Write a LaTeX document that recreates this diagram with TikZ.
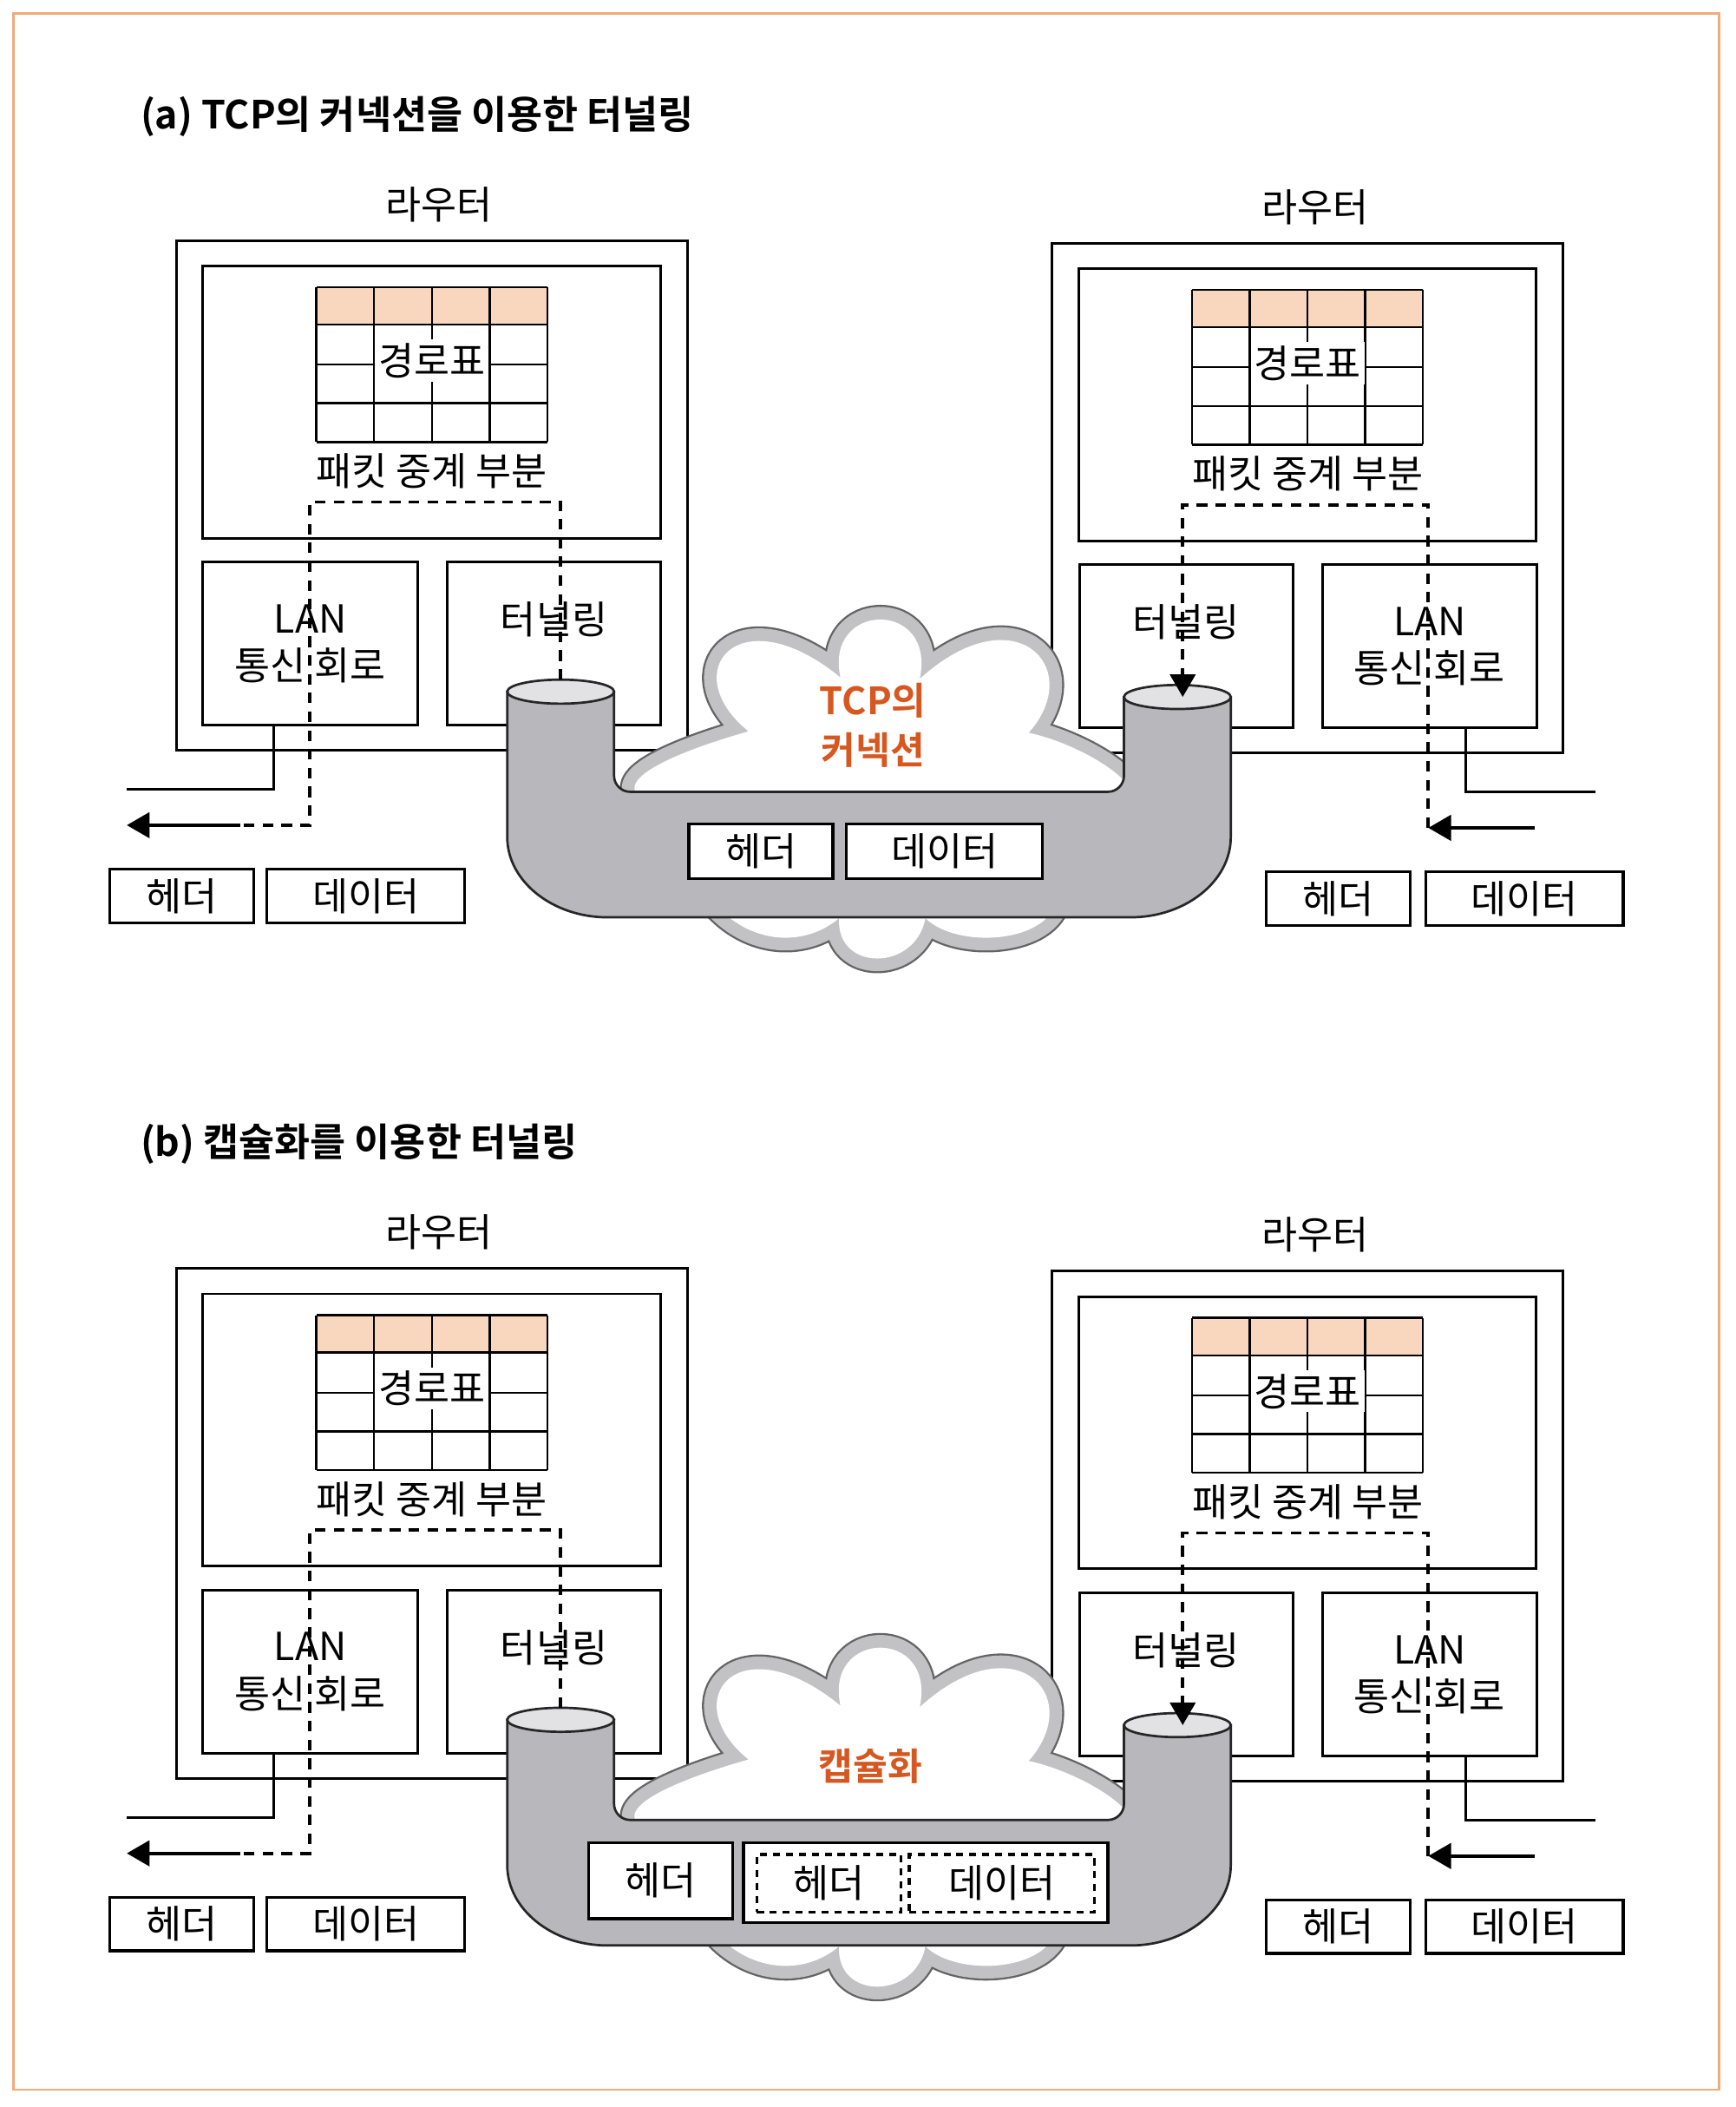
\documentclass[tikz,border=0pt]{standalone}
\usepackage{fontspec}
\setmainfont{Noto Sans CJK KR}[BoldFont={Noto Sans CJK KR Bold}]
\usetikzlibrary{arrows.meta}
\definecolor{tcporange}{RGB}{214,88,32}
\definecolor{peach}{RGB}{249,214,190}
\definecolor{framecol}{RGB}{242,170,125}
\definecolor{pipegray}{RGB}{184,184,188}
\definecolor{capgray}{RGB}{226,226,229}
\definecolor{cloudband}{RGB}{194,194,196}
\definecolor{cloudedge}{RGB}{100,100,100}

\begin{document}
\begin{tikzpicture}
  [x=0.02cm,y=-0.02cm,
   every node/.style={font=\fontsize{16.5}{20}\selectfont,inner sep=0pt},
   box/.style={draw,line width=1.1pt},
   grid line/.style={line width=0.9pt},
   pkt/.style={draw,line width=1.2pt,fill=white,minimum height=0.8cm},
   dpkt/.style={draw,line width=1.3pt,dash pattern=on 3pt off 2.5pt,minimum height=0.86cm},
   route/.style={line width=1.4pt,dash pattern=on 4.5pt off 3.5pt},
   tip/.style={-{Triangle[length=0.34cm,width=0.38cm]}},
   title/.style={font=\fontsize{16.5}{20}\selectfont\bfseries,anchor=west},
   cloudtxt/.style={font=\fontsize{16}{21}\selectfont\bfseries,text=tcporange,align=center},
   pipe/.style={fill=pipegray,draw=black!85,line width=1pt},
   pipetop/.style={fill=capgray,draw=black!85,line width=1pt},
   cloudout/.style={draw=cloudedge,line width=0.44cm,line join=round},
   cloudin/.style={draw=cloudband,line width=0.38cm,line join=round},
   cloudfill/.style={fill=white}]
  \useasboundingbox (0,0) rectangle (1300,1578);
  \fill[white] (0,0) rectangle (1300,1578);
  \draw[framecol,line width=1pt] (10,10) rectangle (1288,1565);

  \node[title] (titleA) at (105,87) {(a) TCP의 커넥션을 이용한 터널링};
  \node[title] (titleB) at (105,857) {(b) 캡슐화를 이용한 터널링};

  % both panels: routers, cloud, pipe and the packet route
  \foreach \p/\dy in {a/0,b/770}{
  \begin{scope}[shift={(0,\dy)}]
    \foreach \s/\dx/\sy/\lx/\tx/\wx/\we/\hx/\ex in
      {L/0/0/232.5/415/205/95/136/274,R/656/2/415/232.5/442/539/346.5/486}{
    \begin{scope}[shift={(\dx,\sy)}]
      \node (name\p\s) at (329,153) {라우터};
      \node[box,minimum width=7.66cm,minimum height=7.64cm] (rt\p\s) at (323.5,371) {};
      \node[box,minimum width=6.86cm,minimum height=4.08cm] (relay\p\s) at (323.5,301) {};
      \fill[peach] (237,215) rectangle (410,243);
      \foreach \i in {0,...,4}
        \draw[grid line] (237+43.25*\i,215) -- (237+43.25*\i,331);
      \foreach \j in {215,243,273,302,331}
        \draw[grid line] (237,\j) -- (410,\j);
      \node[fill=white,inner sep=1.5pt] (table\p\s) at (323.5,270) {경로표};
      \node (relaytxt\p\s) at (323.5,353) {패킷 중계 부분};
      \node[box,align=center,minimum width=3.22cm,minimum height=2.44cm] (lan\p\s) at (\lx,482) {LAN\\통신 회로};
      \node[box,minimum width=3.2cm,minimum height=2.44cm] (tun\p\s) at (\tx,482) {};
      \node (tuntxt\p\s) at (\tx,464) {터널링};
      \coordinate (wire\p\s) at (\we,591);
      \draw[box] (\wx,0 |- lan\p\s.south) |- (wire\p\s);
      \node[pkt,minimum width=2.16cm] (hdr\p\s) at (\hx,671) {헤더};
      \node[pkt,minimum width=2.96cm] (dat\p\s) at (\ex,671) {데이터};
    \end{scope}}

    % cloud
    \begin{scope}[shift={(654,588)},scale=1.06]
      \foreach \st in {cloudout,cloudin,cloudfill}
        \path[\st] (-120,20) .. controls (-210,10) and (-160.7,-17.3) .. (-88,-38)
          .. controls (-140,-80) and (-95,-135) .. (-23,-76)
          .. controls (-35,-130) and (45,-131.7) .. (33,-75)
          .. controls (100,-136) and (151,-83) .. (110,-37)
          .. controls (165,-25) and (238.3,30.7) .. (120,20)
          -- (130,80) .. controls (125,112) and (59.3,116) .. (37,94)
          .. controls (30,132) and (-26.3,132) .. (-24,94)
          .. controls (-50,116) and (-90.3,112) .. (-115,80) -- cycle;
    \end{scope}

    % pipe
    \filldraw[pipe] (380,518) -- (380,627) .. controls (380,660) and (414,687) .. (455,687)
      -- (847,687) .. controls (888,687) and (922,660) .. (922,627) -- (922,522) -- (842,522)
      -- (842,581) .. controls (842,587.6) and (836.6,593) .. (830,593)
      -- (472,593) .. controls (465.4,593) and (460,587.6) .. (460,581) -- (460,518) -- cycle;
    \filldraw[pipetop] (420,518) ellipse [x radius=0.8cm,y radius=0.18cm];
    \filldraw[pipetop] (882,522) ellipse [x radius=0.8cm,y radius=0.18cm];

    % route of the packet
    \coordinate (inL\p) at (420,509);
    \coordinate (outL\p) at (180,618);
    \coordinate (endL\p) at (95,618);
    \draw[route] (inL\p) |- (232,376) |- (outL\p);
    \draw[line width=1.4pt,tip] (outL\p) -- (endL\p);
    \coordinate (startR\p) at (1150,620);
    \coordinate (joinR\p) at (1070,620);
    \coordinate (inR\p) at (886,522);
    \draw[line width=1.4pt,tip] (startR\p) -- (joinR\p);
    \draw[route,tip] (joinR\p) |- (886,378) -- (inR\p);
  \end{scope}}

  \node[cloudtxt] (tcpA) at (654,543) {TCP의\\커넥션};
  \node[pkt,minimum width=2.16cm,minimum height=0.82cm] (phdrA) at (570,637.5) {헤더};
  \node[pkt,minimum width=2.94cm,minimum height=0.82cm] (pdatA) at (707.5,637.5) {데이터};

  \node[cloudtxt] (encB) at (652,1323) {캡슐화};
  \node[pkt,minimum width=2.16cm,minimum height=1.14cm] (phdrB) at (495,1408.5) {헤더};
  \node[pkt,minimum width=5.46cm,minimum height=1.2cm] (pencB) at (693.5,1410) {};
  \node[dpkt,minimum width=2.16cm] (ihdrB) at (621,1410.5) {헤더};
  \node[dpkt,minimum width=2.78cm] (idatB) at (750.5,1410.5) {데이터};
\end{tikzpicture}
\end{document}
